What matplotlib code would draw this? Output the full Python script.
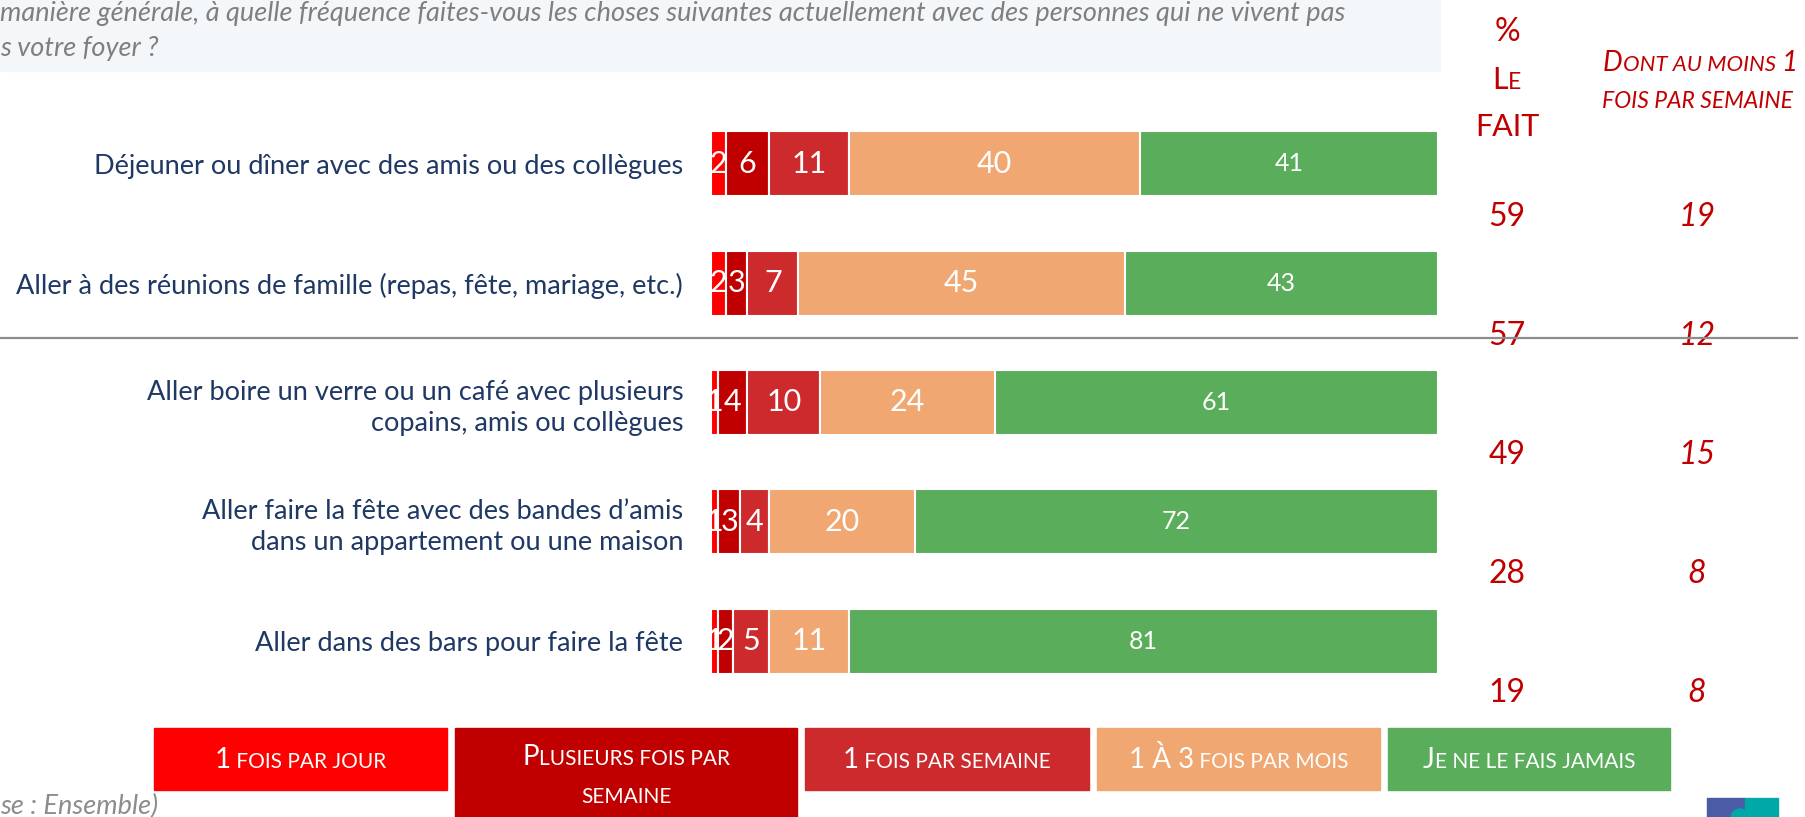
import numpy as np
import matplotlib.pyplot as plt
from matplotlib.patches import Rectangle, Circle
from matplotlib.offsetbox import TextArea, HPacker, AnnotationBbox

plt.rcParams['font.family'] = ['Lato', 'DejaVu Sans']

# ---- data ----
activities = [
    "Déjeuner ou dîner avec des amis ou des collègues",
    "Aller à des réunions de famille (repas, fête, mariage, etc.)",
    "Aller boire un verre ou un café avec plusieurs\ncopains, amis ou collègues",
    "Aller faire la fête avec des bandes d’amis\ndans un appartement ou une maison",
    "Aller dans des bars pour faire la fête",
]
une_fois_jour = [2, 2, 1, 1, 1]
plusieurs_semaine = [6, 3, 4, 3, 2]
une_fois_semaine = [11, 7, 10, 4, 5]
un_a_trois_mois = [40, 45, 24, 20, 11]
jamais = [41, 43, 61, 72, 81]
pct_le_fait = [59, 57, 49, 28, 19]
pct_semaine = [19, 12, 15, 8, 8]

series = [une_fois_jour, plusieurs_semaine, une_fois_semaine, un_a_trois_mois, jamais]
colors = ['#FF0000', '#C00000', '#CC2A2D', '#F0A771', '#5AAD5B']
legend_parts = [
    [[("1", 20), (" FOIS PAR JOUR", 15)]],
    [[("P", 20), ("LUSIEURS FOIS PAR", 15)], [("SEMAINE", 15)]],
    [[("1", 20), (" FOIS PAR SEMAINE", 15)]],
    [[("1 À 3", 20), (" FOIS PAR MOIS", 15)]],
    [[("J", 20), ("E NE LE FAIS JAMAIS", 15)]],
]

W, H = 1806, 817
fig = plt.figure(figsize=(W / 100, H / 100), dpi=100)

# decoration layer in pixel coordinates (drawn above the bars axes)
bg = fig.add_axes([0, 0, 1, 1])
bg.set_xlim(0, W)
bg.set_ylim(H, 0)
bg.axis('off')
bg.set_zorder(2)
bg.patch.set_alpha(0)

# bars
ax = fig.add_axes([711 / W, 1 - 701 / H, 727 / W, 597 / H])
ax.set_zorder(1)
ax.patch.set_alpha(0)
y = np.arange(len(activities))
left = np.zeros(len(activities))
for k, (vals, col) in enumerate(zip(series, colors)):
    vals = np.array(vals)
    ax.barh(y, vals, left=left, height=0.545, color=col, edgecolor='white', linewidth=1.5)
    for i, v in enumerate(vals):
        fs = 18 if k == 4 else 22
        ax.text(left[i] + v / 2, i, str(v), ha='center', va='center',
                color='white', fontsize=fs)
    left += vals
ax.set_xlim(0, 100)
ax.set_ylim(4.5, -0.5)
ax.set_yticks(y)
ax.set_yticklabels(activities, fontsize=19.5, color='#1F3864', linespacing=1.3)
ax.tick_params(axis='y', length=0, pad=20)
ax.set_xticks([])
for s in ax.spines.values():
    s.set_visible(False)

# right columns
for i in range(len(activities)):
    yy = i * 0.995 + 0.45
    ax.text(1.095, yy, str(pct_le_fait[i]), transform=ax.get_yaxis_transform(),
            ha='center', va='center', fontsize=23, color='#C00000', clip_on=False)
    ax.text(1.356, yy, str(pct_semaine[i]), transform=ax.get_yaxis_transform(),
            ha='center', va='center', fontsize=23, color='#C00000', style='italic',
            clip_on=False)


def caps_box(parts, x, yv, color, style='normal', align=(0.5, 0.5)):
    kids = [TextArea(t, textprops=dict(fontsize=s, color=color, style=style))
            for t, s in parts]
    box = HPacker(children=kids, align='baseline', pad=0, sep=0)
    ab = AnnotationBbox(box, (x, yv), xycoords='data', frameon=False,
                        box_alignment=align, pad=0, zorder=5)
    bg.add_artist(ab)


# question header
bg.add_patch(Rectangle((0, 0), 1440, 71, color='#F4F7F9', zorder=0))
bg.text(0, 13, "manière générale, à quelle fréquence faites-vous les choses suivantes "
        "actuellement avec des personnes qui ne vivent pas", fontsize=19.5, style='italic',
        color='#7F7F7F', va='center', ha='left')
bg.text(0, 48, "s votre foyer ?", fontsize=19.5, style='italic', color='#7F7F7F',
        va='center', ha='left')

# column headers
bg.text(1507, 32, "%", fontsize=23, color='#C00000', ha='center', va='center')
caps_box([("L", 22), ("E", 16.5)], 1507, 80, '#C00000')
bg.text(1507, 127, "FAIT", fontsize=22, color='#C00000', ha='center', va='center')
caps_box([("D", 20), ("ONT AU MOINS ", 16), ("1", 20)], 1700, 63, '#C00000', 'italic')
caps_box([("FOIS PAR SEMAINE", 16.5)], 1697, 101, '#C00000', 'italic')

# separator line
bg.plot([0, 1797], [338, 338], color='#8C8C8C', lw=1.6, zorder=10)

# legend boxes
box_x = [(154, 447), (455, 797), (805, 1089), (1097, 1380), (1388, 1670)]
for (x0, x1), col, lines in zip(box_x, colors, legend_parts):
    y1 = 790 if len(lines) == 1 else 830
    bg.add_patch(Rectangle((x0, 728), x1 - x0, y1 - 728, color=col, zorder=1))
    if len(lines) == 1:
        caps_box(lines[0], (x0 + x1) / 2, 760, 'white')
    else:
        caps_box(lines[0], (x0 + x1) / 2, 757, 'white')
        caps_box(lines[1], (x0 + x1) / 2, 797, 'white')

bg.text(0, 806, "se : Ensemble)", fontsize=19.5, style='italic', color='#8C8C8C',
        va='center', ha='left')

# logo
bg.add_patch(Rectangle((1707, 798), 38, 22, color='#4B5BA6', zorder=1))
bg.add_patch(Rectangle((1745, 798), 33, 22, color='#00A9A5', zorder=1))
bg.add_patch(Circle((1740, 818), 9, color='#00A9A5', zorder=2))

fig.savefig('out.png', dpi=100)
